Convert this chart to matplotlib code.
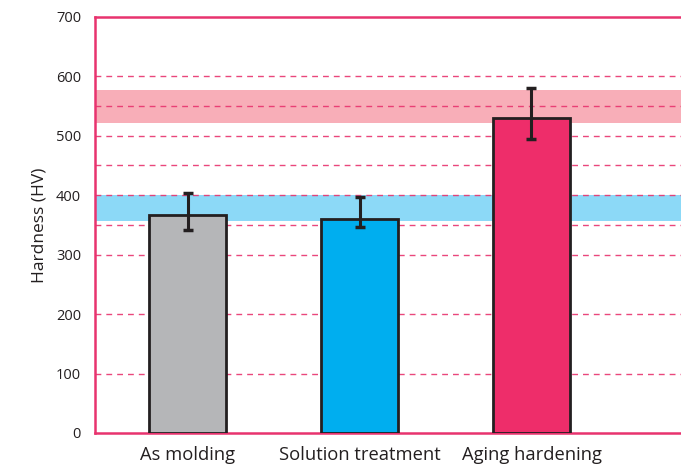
import matplotlib
matplotlib.use("Agg")
import matplotlib.pyplot as plt
import numpy as np

# Data
categories = ["As molding", "Solution treatment", "Aging hardening"]
hardness = [367, 360, 530]
err_low = [341, 346, 494]
err_high = [403, 396, 580]
bar_colors = ["#B5B6B8", "#00AEEF", "#EE2D6A"]

# Reference hardness ranges
pink_band = (522, 577)
blue_band = (357, 400)

y_ticks = [0, 100, 200, 300, 400, 500, 600, 700]
grid_levels = [100, 200, 300, 350, 400, 450, 500, 550, 600]

ink = "#231F20"
accent = "#E8336E"

plt.rcParams["font.family"] = ["Open Sans", "DejaVu Sans"]

fig = plt.figure(figsize=(6.81, 4.68), dpi=100)
ax = fig.add_axes([95 / 681, 35 / 468, (681 - 95) / 681 + 0.01, 416.3 / 468])

x = np.arange(len(categories))

ax.axhspan(*pink_band, color="#F8AEB8", zorder=1, lw=0)
ax.axhspan(*blue_band, color="#8CD9F7", zorder=1, lw=0)

for g in grid_levels:
    ax.axhline(g, color=accent, lw=1.0, dashes=(4.2, 3.6), zorder=2, alpha=0.9)

ax.bar(x, hardness, width=0.45, color=bar_colors, edgecolor=ink,
       linewidth=2.0, zorder=3)

h = np.array(hardness)
yerr = np.vstack([h - np.array(err_low), np.array(err_high) - h])
ax.errorbar(x, h, yerr=yerr, fmt="none", ecolor=ink, elinewidth=2.2,
            capsize=3.8, capthick=2.5, zorder=4)

ax.set_xlim(-0.54, 2.91)
ax.set_ylim(0, 700)
ax.set_yticks(y_ticks)
ax.set_xticks(x)
ax.set_xticklabels(categories, fontsize=13.2, color=ink)
ax.tick_params(axis="y", length=0, labelsize=10.5, labelcolor=ink, pad=10)
ax.tick_params(axis="x", length=0, pad=9)
ax.set_ylabel("Hardness (HV)", fontsize=12.5, color=ink, labelpad=6)

for side in ["left", "bottom", "top"]:
    ax.spines[side].set_color(accent)
    ax.spines[side].set_linewidth(1.8)
ax.spines["right"].set_visible(False)

fig.savefig("out.png", dpi=100)
